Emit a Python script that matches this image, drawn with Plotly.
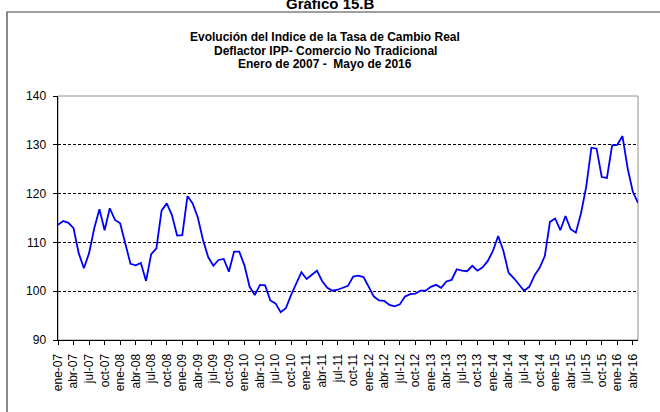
import plotly.graph_objects as go

months = ['ene', 'feb', 'mar', 'abr', 'may', 'jun', 'jul', 'ago', 'sep', 'oct', 'nov', 'dic']
categories = [f"{m}-{y:02d}" for y in range(7, 17) for m in months][:113]
tick_labels = categories[::3]

values = [
    113.6, 114.4, 114.0, 112.9, 107.8, 104.7, 107.8, 112.9, 116.8, 112.5, 117.0, 114.6,
    113.9, 109.8, 105.6, 105.3, 105.8, 102.1, 107.6, 108.8, 116.5, 118.0, 115.6, 111.4,
    111.5, 119.5, 118.0, 115.1, 110.5, 107.0, 105.2, 106.4, 106.6, 104.0, 108.1, 108.1,
    105.3, 100.9, 99.2, 101.3, 101.2, 98.1, 97.5, 95.7, 96.5, 99.2, 101.6, 103.9,
    102.5, 103.3, 104.2, 102.1, 100.7, 100.1, 100.3, 100.7, 101.1, 103.0, 103.2, 102.9,
    100.9, 98.9, 98.1, 98.0, 97.2, 96.9, 97.3, 98.9, 99.4, 99.5, 100.1, 100.1,
    100.9, 101.3, 100.7, 102.0, 102.3, 104.5, 104.2, 104.1, 105.2, 104.2, 104.9, 106.2,
    108.3, 111.3, 108.3, 103.8, 102.7, 101.4, 100.1, 100.9, 103.2, 104.8, 107.2, 114.2,
    114.9, 112.5, 115.4, 112.7, 112.0, 116.0, 121.4, 129.4, 129.2, 123.4, 123.2, 129.9,
    130.0, 131.8, 125.2, 120.4, 118.1,
]
y_ticks = [90, 100, 110, 120, 130, 140]

title_lines = [
    "Evolución del Indice de la Tasa de Cambio Real",
    "Deflactor IPP- Comercio No Tradicional",
    "Enero de 2007 -  Mayo de 2016",
]
header = "Gráfico 15.B"

FONT = "Liberation Sans, Arial, sans-serif"
W, H = 660, 412
L, R, T, B = 58, 22, 96, 72
PW, PH = W - L - R, H - T - B


def px_x(x):
    return (x - L) / PW


def px_y(y):
    return (H - B - y) / PH


fig = go.Figure()
fig.add_trace(go.Scatter(
    x=categories, y=values, mode="lines",
    line=dict(color="#0000FF", width=1.8),
    hoverinfo="skip", showlegend=False,
))

annotations = []
for txt, yc in zip(title_lines, [37, 51, 64]):
    annotations.append(dict(
        text=f"<b>{txt}</b>", x=px_x(325), y=px_y(yc), xref="paper", yref="paper",
        xanchor="center", yanchor="middle", showarrow=False,
        font=dict(family=FONT, size=12, color="black"),
    ))
annotations.append(dict(
    text=f"<b>{header}</b>", x=px_x(330), y=px_y(3), xref="paper", yref="paper",
    xanchor="center", yanchor="middle", showarrow=False,
    font=dict(family=FONT, size=15, color="black"),
))

shapes = [
    # outer chart frame (extends beyond the picture on right and bottom)
    dict(type="rect", xref="paper", yref="paper",
         x0=px_x(7), x1=px_x(W + 20), y0=px_y(H + 20), y1=px_y(12),
         line=dict(color="#404040", width=1.2), fillcolor="rgba(0,0,0,0)", layer="below"),
    # plot-area border
    dict(type="rect", xref="paper", yref="paper", x0=0, x1=1, y0=0, y1=1,
         line=dict(color="#909090", width=1), fillcolor="rgba(0,0,0,0)", layer="below"),
]

fig.update_layout(
    width=W, height=H, autosize=False,
    margin=dict(l=L, r=R, t=T, b=B, pad=0),
    paper_bgcolor="white", plot_bgcolor="white",
    font=dict(family=FONT, size=12, color="black"),
    annotations=annotations, shapes=shapes,
    xaxis=dict(
        type="category", range=[0, len(categories) - 1],
        tickmode="array", tickvals=tick_labels, ticktext=tick_labels,
        tickangle=-90, ticks="outside", ticklen=4, tickcolor="black",
        ticklabelstandoff=4,
        showline=True, linecolor="black", linewidth=1,
        showgrid=False, zeroline=False,
        tickfont=dict(family=FONT, size=12, color="black"),
    ),
    yaxis=dict(
        range=[90, 140], tickmode="array", tickvals=y_ticks,
        ticks="outside", ticklen=4, tickcolor="black",
        ticklabelstandoff=4,
        showline=True, linecolor="black", linewidth=1.5,
        showgrid=True, gridcolor="black", gridwidth=1, griddash="3px,2px",
        zeroline=False,
        tickfont=dict(family=FONT, size=12, color="black"),
    ),
)

fig.write_html(
    "out.html",
    config={"displayModeBar": False, "staticPlot": True},
    post_script="document.body.style.margin='0';document.body.style.overflow='hidden';",
)
